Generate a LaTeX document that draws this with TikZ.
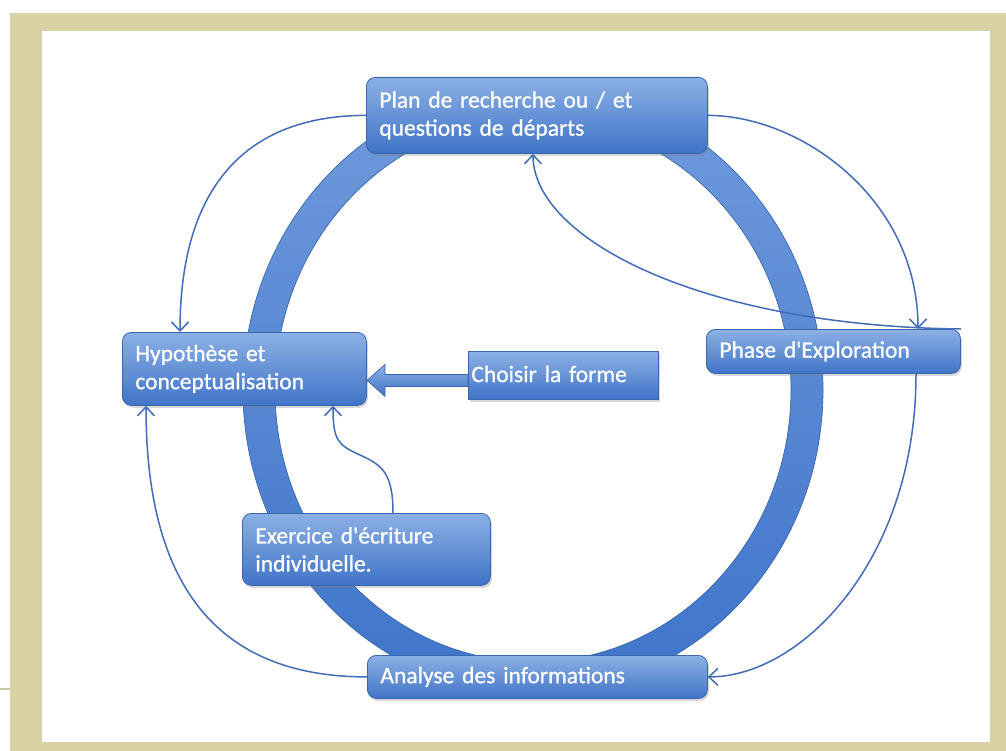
\documentclass[tikz,border=0pt]{standalone}
\usepackage{fontspec}
\setmainfont[Ligatures=Common,FakeBold=0.9]{Carlito}
\usetikzlibrary{arrows.meta,shadows,calc}
\definecolor{framec}{RGB}{216,210,165}
\definecolor{boxtop}{RGB}{140,176,228}
\definecolor{boxbot}{RGB}{64,116,200}
\definecolor{boxline}{RGB}{58,102,172}
\definecolor{ringtop}{RGB}{112,154,220}
\definecolor{ringbot}{RGB}{62,116,202}
\definecolor{connc}{RGB}{66,108,184}
\tikzset{
  box/.style={draw=boxline, line width=0.8pt, rounded corners=9pt,
    top color=boxtop, bottom color=boxbot, text=white,
    font=\fontsize{23.5}{28}\selectfont, align=left,
    inner xsep=13pt, inner ysep=2pt, anchor=north west,
    drop shadow={opacity=0.3, shadow xshift=1.5pt, shadow yshift=-2.5pt}},
  sqbox/.style={box, rounded corners=0pt},
  conn/.style={draw=connc, line width=1.5pt,
    -{Straight Barb[length=9pt,width=17pt,line width=1.5pt]}},
}
\begin{document}
\begin{tikzpicture}[x=1pt,y=-1pt]
\useasboundingbox (0,0) rectangle (1006,751);
% frame
\fill[white] (0,0) rectangle (1006,751);
\fill[framec] (10,13) rectangle (1006,751);
\fill[white] (42,31) rectangle (990,742);
\draw[framec!85!gray, line width=1.2pt] (0,689) -- (10,689);
% ring
\coordinate (c) at (533,390);
\shade[top color=ringtop, bottom color=ringbot, even odd rule]
  (c) ellipse[x radius=290, y radius=304] (c) ellipse[x radius=258, y radius=272];
\draw[boxline, line width=0.7pt] (c) ellipse[x radius=290, y radius=304]
  (c) ellipse[x radius=258, y radius=272];
% boxes
\node[box, minimum width=341pt, minimum height=76pt, text width=315pt] (plan) at (366,77)
  {Plan de recherche ou / et\\questions de départs};
\node[box, minimum width=244pt, minimum height=73pt, text width=218pt] (hyp) at (122,332)
  {Hypothèse et\\conceptualisation};
\node[box, minimum width=254pt, minimum height=44pt, text width=228pt] (phase) at (706,329)
  {Phase d\textquotesingle Exploration};
\node[box, minimum width=248pt, minimum height=72pt, text width=222pt] (exer) at (242,513)
  {Exercice d\textquotesingle écriture\\individuelle.};
\node[box, minimum width=340pt, minimum height=43pt, text width=314pt] (ana) at (367,655)
  {Analyse des informations};
\node[sqbox, minimum width=190pt, minimum height=48pt, text width=184pt, inner xsep=3pt] (cho) at (468,351)
  {\raisebox{3pt}{Choisir la forme}};
% block arrow from Choisir to Hypothese
\shade[top color=boxtop, bottom color=boxbot, draw=boxline, line width=0.7pt]
  ($(cho.west)+(0,-1)$) -- ++(-83,0) -- ++(0,-10) -- ++(-18,16) -- ++(18,16)
  -- ++(0,-10) -- ++(83,0) -- cycle;
% connectors
\coordinate (hypT) at ($(hyp.north west)+(58,0)$);
\coordinate (phT) at ($(phase.north west)+(212,0)$);
\coordinate (phB) at ($(phase.south west)+(210,0)$);
\coordinate (plB) at ($(plan.south west)+(167,0)$);
\coordinate (hypBL) at ($(hyp.south west)+(24,0)$);
\coordinate (hypBR) at ($(hyp.south west)+(211,0)$);
\coordinate (exT) at ($(exer.north west)+(151,0)$);
\coordinate (w) at (360,455);
\draw[conn] (plan.west) .. controls +(-120,0) and +(0,-145) .. (hypT);
\draw[conn] (plan.east) .. controls +(93,0) and +(0,-130) .. (phT);
\draw[conn] (phase.north east) .. controls +(-260,-3) and +(0,85) .. (plB);
\draw[conn] (phB) .. controls +(0,187) and +(93,0) .. (ana.east);
\draw[conn] (ana.west) .. controls +(-165,0) and +(0,160) .. (hypBL);
\draw[conn] (exT) .. controls +(0,-40) and +(22,10) .. (w)
  .. controls +(-22,-10) and +(0,35) .. (hypBR);
\end{tikzpicture}
\end{document}
